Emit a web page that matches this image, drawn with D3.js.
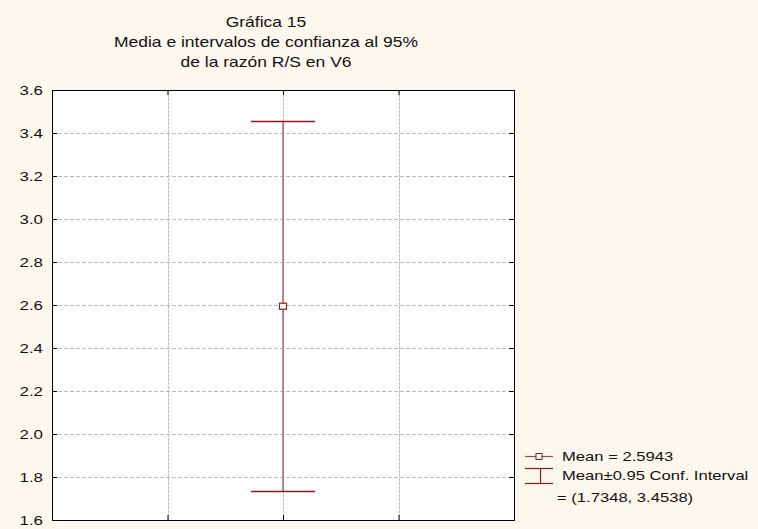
<!DOCTYPE html>
<html><head><meta charset="utf-8">
<script src="https://cdn.jsdelivr.net/npm/d3@7"></script>
<style>
html,body{margin:0;padding:0;background:#FDF8EE;}
svg{display:block;}
text{font-family:"Liberation Sans",Arial,sans-serif;fill:#111;}
</style></head><body>
<script>
const titleLines = ["Gráfica 15", "Media e intervalos de confianza al 95%", "de la razón R/S en V6"];
const categories = ["V6"];
const meanValues = [2.5943];
const lowerValues = [1.7348];
const upperValues = [3.4538];
const yTicks = [1.6, 1.8, 2.0, 2.2, 2.4, 2.6, 2.8, 3.0, 3.2, 3.4, 3.6];
const xGrid = [1, 2, 3];
const legendLabels = ["Mean = 2.5943", "Mean±0.95 Conf. Interval", "= (1.7348, 3.4538)"];

const W = 758, H = 529;
const m = {left: 52, right: 514, top: 90, bottom: 520};
const svg = d3.select("body").append("svg").attr("width", W).attr("height", H);
svg.append("rect").attr("width", W).attr("height", H).attr("fill", "#FDF8EE");

const y = d3.scaleLinear().domain([1.6, 3.6]).range([m.bottom, m.top]);
const x = d3.scaleLinear().domain([0, 4]).range([m.left, m.right]);
const catX = d3.scalePoint().domain(categories).range([x(2), x(2)]);

function stext(g, str, px, py, size, sx, anchor) {
  return g.append("text").text(str)
    .attr("transform", `translate(${px},${py}) scale(${sx},1)`)
    .attr("font-size", size).attr("text-anchor", anchor || "start");
}

svg.append("rect").attr("x", m.left).attr("y", m.top)
  .attr("width", m.right - m.left).attr("height", m.bottom - m.top).attr("fill", "#fff");

// grid
const grid = svg.append("g");
grid.selectAll("line.h").data(yTicks.filter(d => d > 1.6 && d < 3.6)).enter().append("line")
  .attr("x1", m.left).attr("x2", m.right).attr("y1", d => Math.round(y(d)) + 0.5).attr("y2", d => Math.round(y(d)) + 0.5)
  .attr("stroke", "#bdbdbd").attr("stroke-dasharray", "4,2");
grid.selectAll("line.v").data(xGrid).enter().append("line")
  .attr("y1", m.top).attr("y2", m.bottom).attr("x1", d => Math.round(x(d)) + 0.5).attr("x2", d => Math.round(x(d)) + 0.5)
  .attr("stroke", "#bdbdbd").attr("stroke-dasharray", "3,1");

// axes (ticks inside)
const axL = d3.axisLeft(y).tickValues(yTicks).tickSize(-5).tickFormat("");
const axR = d3.axisRight(y).tickValues(yTicks).tickSize(-5).tickFormat("");
const axT = d3.axisTop(x).tickValues(xGrid).tickSize(-5).tickFormat("");
const axB = d3.axisBottom(x).tickValues(xGrid).tickSize(-5).tickFormat("");
[[axL, `translate(${m.left},0)`], [axR, `translate(${m.right},0)`], [axT, `translate(0,${m.top})`], [axB, `translate(0,${m.bottom})`]]
  .forEach(([ax, tr]) => {
    const g = svg.append("g").attr("transform", tr).call(ax);
    g.select(".domain").attr("stroke", "#000");
    g.selectAll(".tick line").attr("stroke", "#000");
  });

// y labels
yTicks.forEach(t => {
  stext(svg, t.toFixed(1), 43, y(t) + 4.5, 12.5, 1.35, "end");
});

// title
titleLines.forEach((t, i) => {
  stext(svg, t, 266, 27 + i * 20, 14, 1.25, "middle");
});

// error bars
const red = "#8B1C1C";
const eb = svg.append("g");
categories.forEach((c, i) => {
  const cx = catX(c);
  eb.append("line").attr("x1", cx).attr("x2", cx).attr("y1", y(upperValues[i])).attr("y2", y(lowerValues[i]))
    .attr("stroke", "#A04545").attr("stroke-width", 1.2);
  [upperValues[i], lowerValues[i]].forEach(v => {
    eb.append("line").attr("x1", cx - 32).attr("x2", cx + 32).attr("y1", Math.round(y(v)) + 0.5).attr("y2", Math.round(y(v)) + 0.5)
      .attr("stroke", red).attr("stroke-width", 1.3);
  });
  eb.append("rect").attr("x", cx - 3.5).attr("y", y(meanValues[i]) - 3).attr("width", 7).attr("height", 6)
    .attr("fill", "#fff").attr("stroke", red).attr("stroke-width", 1.2);
});

// legend
const lg = svg.append("g");
lg.append("line").attr("x1", 525).attr("x2", 553).attr("y1", 456.5).attr("y2", 456.5).attr("stroke", "#A04545").attr("stroke-width", 1.2);
lg.append("rect").attr("x", 536).attr("y", 453.5).attr("width", 6).attr("height", 6).attr("fill", "#fff").attr("stroke", red);
lg.append("line").attr("x1", 525).attr("x2", 553).attr("y1", 468.5).attr("y2", 468.5).attr("stroke", red).attr("stroke-width", 1.2);
lg.append("line").attr("x1", 525).attr("x2", 553).attr("y1", 483.5).attr("y2", 483.5).attr("stroke", red).attr("stroke-width", 1.2);
lg.append("line").attr("x1", 540.5).attr("x2", 540.5).attr("y1", 468.5).attr("y2", 483.5).attr("stroke", red).attr("stroke-width", 1.2);
stext(lg, legendLabels[0], 562, 460.5, 12.5, 1.33);
stext(lg, legendLabels[1], 562, 479.5, 12.5, 1.33);
stext(lg, legendLabels[2], 557, 502, 12.5, 1.33);
</script>
</body></html>
